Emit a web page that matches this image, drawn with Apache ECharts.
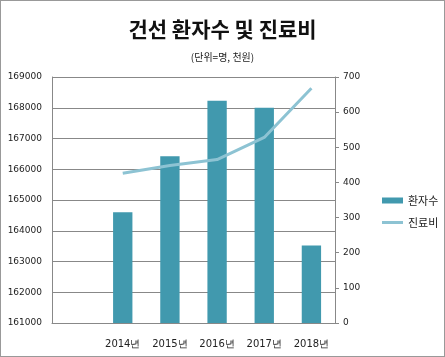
<!DOCTYPE html>
<html><head><meta charset="utf-8">
<script src="https://cdn.jsdelivr.net/npm/echarts@6/dist/echarts.min.js"></script>
<style>html,body{margin:0;padding:0;background:#fff}#c{width:445px;height:357px;box-sizing:border-box;border:1px solid #999}</style>
</head><body><div id="c"></div>
<script>
const categories = ['', '2014년', '2015년', '2016년', '2017년', '2018년'];
const patients = [null, 164600, 166420, 168230, 168000, 163520];
const costs = [null, 426, 448, 465, 528, 668];
const titleText = '건선 환자수 및 진료비';
const subText = '(단위=명, 천원)';

const chart = echarts.init(document.getElementById('c'));
const axisFont = {fontFamily: 'DejaVu Sans', fontSize: 9, color: '#222'};
const legendText = {fontFamily: 'Noto Sans CJK KR', fontSize: 11, color: '#222'};
chart.setOption({
  animation: false,
  title: [
    {text: titleText, left: 'center', top: 13, textStyle: {fontFamily: 'Noto Sans CJK KR', fontWeight: 'bold', fontSize: 21, color: '#111'}},
    {text: subText, left: 'center', top: 46, textStyle: {fontFamily: 'Noto Sans CJK KR', fontWeight: 'normal', fontSize: 10, color: '#222'}}
  ],
  legend: [
    {orient: 'vertical', left: 376, top: 189, itemWidth: 21, itemHeight: 6,
     textStyle: legendText, data: [{name: '환자수', icon: 'rect'}]},
    {orient: 'vertical', left: 376, top: 211, itemWidth: 21, itemHeight: 3,
     textStyle: legendText, data: [{name: '진료비', icon: 'rect'}]}
  ],
  grid: {left: 51, right: 109, top: 76, bottom: 33, containLabel: false},
  xAxis: {
    type: 'category', data: categories, boundaryGap: true,
    axisLine: {lineStyle: {color: '#888'}}, axisTick: {show: false},
    axisLabel: Object.assign({margin: 16, interval: 0}, axisFont, {fontSize: 10})
  },
  yAxis: [
    {type: 'value', min: 161000, max: 169000, interval: 1000,
     axisLine: {show: true, lineStyle: {color: '#888'}}, axisTick: {show: false},
     splitLine: {lineStyle: {color: '#888', width: 1}},
     axisLabel: Object.assign({margin: 10, formatter: v => String(v)}, axisFont)},
    {type: 'value', min: 0, max: 700, interval: 100,
     axisLine: {show: true, lineStyle: {color: '#888'}},
     axisTick: {show: true, length: 4, lineStyle: {color: '#888'}},
     splitLine: {show: false},
     axisLabel: Object.assign({margin: 8}, axisFont)}
  ],
  series: [
    {name: '환자수', type: 'bar', data: patients, barWidth: '41%', yAxisIndex: 0,
     itemStyle: {color: '#4199AE'}},
    {name: '진료비', type: 'line', data: costs, yAxisIndex: 1, symbol: 'none',
     lineStyle: {color: '#8DC3D3', width: 3}, itemStyle: {color: '#8DC3D3'}}
  ]
});
</script></body></html>
